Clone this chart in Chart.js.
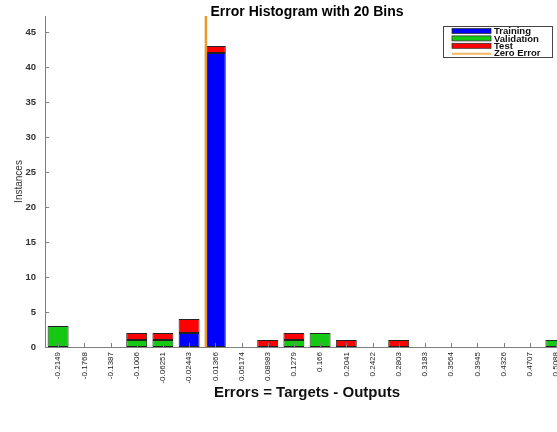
<!DOCTYPE html>
<html>
<head>
<meta charset="utf-8">
<script src="https://cdn.jsdelivr.net/npm/chart.js@4.4.0/dist/chart.umd.min.js"></script>
<style>
  html, body { margin: 0; padding: 0; background: #fff; overflow: hidden; }
  #wrap { width: 575px; height: 432px; }
</style>
</head>
<body>
<div id="wrap"><canvas id="c" width="575" height="432"></canvas></div>
<script>
// Bin centres of the 20-bin error histogram
const binCenters = ['-0.2149', '-0.1768', '-0.1387', '-0.1006', '-0.06251', '-0.02443', '0.01366', '0.05174',
  '0.08983', '0.1279', '0.166', '0.2041', '0.2422', '0.2803', '0.3183', '0.3564', '0.3945', '0.4326', '0.4707', '0.5088'];
// Instances per bin for each data split (null = empty)
const training   = [null, null, null, null, null, 2, 42, null, null, null, null, null, null, null, null, null, null, null, null, null];
const validation = [3, null, null, 1, 1, null, null, null, null, 1, 2, null, null, null, null, null, null, null, null, 1];
const test       = [null, null, null, 1, 1, 2, 1, null, 1, 1, null, 1, null, 1, null, null, null, null, null, null];
const zeroError = 0;
const yMax = 47.3;
const yStep = 5;

const binWidth = (parseFloat(binCenters[binCenters.length - 1]) - parseFloat(binCenters[0])) / (binCenters.length - 1);

const axisGrey = '#7f7f7f';
const sans = '"Liberation Sans", Arial, sans-serif';

// Small inward tick marks on both axes
const innerTicks = {
  id: 'innerTicks',
  afterDraw(chart) {
    const ctx = chart.ctx;
    const xs = chart.scales.x, ys = chart.scales.y;
    ctx.save();
    ctx.strokeStyle = axisGrey;
    ctx.lineWidth = 1;
    ctx.beginPath();
    ys.ticks.forEach((t, i) => {
      const y = Math.round(ys.getPixelForTick(i)) + 0.5;
      ctx.moveTo(chart.chartArea.left, y);
      ctx.lineTo(chart.chartArea.left + 4, y);
    });
    xs.ticks.forEach((t, i) => {
      const x = Math.round(xs.getPixelForTick(i)) + 0.5;
      ctx.moveTo(x, chart.chartArea.bottom);
      ctx.lineTo(x, chart.chartArea.bottom - 4);
    });
    ctx.stroke();
    ctx.restore();
  }
};

// Title centred over the plotting area
const plotTitle = {
  id: 'plotTitle',
  afterDraw(chart, args, opts) {
    const ctx = chart.ctx;
    const a = chart.chartArea;
    ctx.save();
    ctx.font = 'bold 14px ' + sans;
    ctx.fillStyle = '#000';
    ctx.textAlign = 'center';
    ctx.textBaseline = 'middle';
    ctx.fillText(opts.text, (a.left + a.right) / 2, 12);
    ctx.restore();
  }
};

// Boxed legend in the upper right
const boxLegend = {
  id: 'boxLegend',
  afterDraw(chart, args, opts) {
    const ctx = chart.ctx;
    const {x, y, w, h, rowH} = opts;
    ctx.save();
    ctx.fillStyle = '#fff';
    ctx.fillRect(x, y, w, h);
    ctx.strokeStyle = '#444';
    ctx.lineWidth = 1;
    ctx.strokeRect(x + 0.5, y + 0.5, w, h);
    ctx.font = 'bold 9.5px ' + sans;
    ctx.textBaseline = 'middle';
    ctx.textAlign = 'left';
    const items = chart.data.datasets.slice().sort((p, q) => p.legendIndex - q.legendIndex);
    items.forEach((ds, i) => {
      const cy = y + 5 + rowH * i;
      if (ds.type === 'line') {
        ctx.strokeStyle = ds.legendColor;
        ctx.lineWidth = 2;
        ctx.beginPath();
        ctx.moveTo(x + 9, cy + 0.5);
        ctx.lineTo(x + 48, cy + 0.5);
        ctx.stroke();
      } else {
        ctx.fillStyle = ds.backgroundColor;
        ctx.fillRect(x + 9, cy - 2.5, 39, 5);
        ctx.strokeStyle = '#333';
        ctx.lineWidth = 0.8;
        ctx.strokeRect(x + 9, cy - 2.5, 39, 5);
      }
      ctx.fillStyle = '#111';
      ctx.fillText(ds.label, x + 51, cy + 0.5);
    });
    ctx.restore();
  }
};

const barStyle = {
  type: 'bar',
  xAxisID: 'x',
  yAxisID: 'y',
  grouped: false,
  borderColor: '#222',
  borderWidth: 1,
  borderSkipped: false,
  barPercentage: 0.8,
  categoryPercentage: 1.0
};

new Chart(document.getElementById('c'), {
  data: {
    labels: binCenters,
    datasets: [
      {
        type: 'line', label: 'Zero Error', legendIndex: 3,
        xAxisID: 'xe', yAxisID: 'y', stack: 'zero', order: -1,
        data: [{x: zeroError, y: 0}, {x: zeroError, y: yMax}],
        borderColor: '#EC9A2C', legendColor: '#F4B665', borderWidth: 2.5,
        pointRadius: 0, fill: false, tension: 0
      },
      Object.assign({label: 'Training', legendIndex: 0, data: training, backgroundColor: '#0000FF'}, barStyle),
      Object.assign({label: 'Validation', legendIndex: 1, data: validation, backgroundColor: '#14C814'}, barStyle),
      Object.assign({label: 'Test', legendIndex: 2, data: test, backgroundColor: '#FF0000'}, barStyle)
    ]
  },
  options: {
    responsive: false,
    animation: false,
    layout: { padding: { top: 16, right: 6, left: 0, bottom: 0 } },
    plugins: {
      legend: { display: false },
      tooltip: { enabled: false },
      title: { display: false },
      plotTitle: { text: 'Error Histogram with 20 Bins' },
      boxLegend: { x: 443, y: 26, w: 109, h: 31, rowH: 7.4 }
    },
    scales: {
      x: {
        type: 'category',
        stacked: true,
        offset: true,
        grid: { display: false, drawTicks: false },
        border: { display: true, color: axisGrey, width: 1 },
        ticks: {
          autoSkip: false, maxRotation: 90, minRotation: 90, padding: 5,
          color: '#222',
          font: { family: sans, size: 8 }
        },
        title: {
          display: true, text: 'Errors = Targets - Outputs', color: '#111',
          font: { family: sans, size: 15, weight: 'bold' },
          padding: { top: 0, bottom: 30 }
        },
        afterFit(s) { s.height = 85; }
      },
      xe: {
        type: 'linear',
        display: false,
        min: parseFloat(binCenters[0]) - binWidth / 2,
        max: parseFloat(binCenters[binCenters.length - 1]) + binWidth / 2
      },
      y: {
        stacked: true,
        min: 0,
        max: yMax,
        grid: { display: false, drawTicks: false },
        border: { display: true, color: axisGrey, width: 1 },
        ticks: {
          stepSize: yStep, includeBounds: false, padding: 9, color: '#333',
          font: { family: sans, size: 9.5, weight: 'bold' }
        },
        title: {
          display: true, text: 'Instances', color: '#333',
          font: { family: sans, size: 10 },
          padding: { top: 13, bottom: 0 }
        },
        afterFit(s) { s.width = 45; }
      }
    }
  },
  plugins: [innerTicks, plotTitle, boxLegend]
});
</script>
</body>
</html>
